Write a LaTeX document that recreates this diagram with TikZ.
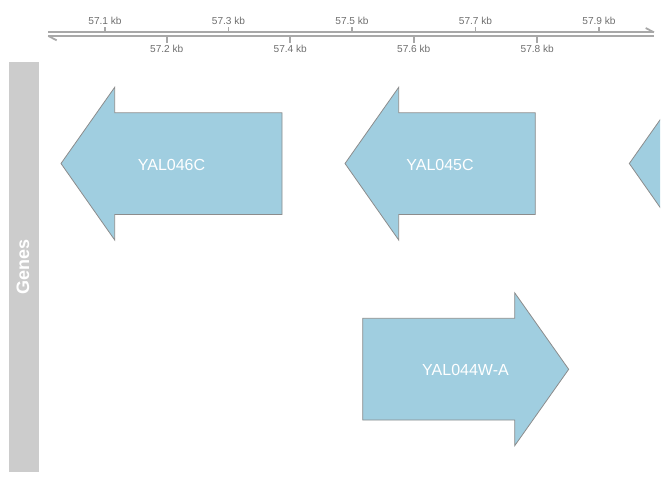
\documentclass[tikz,border=0pt]{standalone}
\usepackage{fontspec}
\usepackage{xcolor}
\usepackage{tikz}
\setmainfont{Liberation Sans}
\definecolor{genefill}{RGB}{160,206,224}
\definecolor{geneline}{RGB}{140,140,140}
\definecolor{axisgray}{RGB}{168,168,168}
\definecolor{labgray}{RGB}{110,110,110}
\definecolor{stripgray}{RGB}{204,204,204}
\tikzset{
  axisline/.style={draw=axisgray,line width=1.3pt},
  ticklab/.style={inner sep=0.75pt,text=labgray,font=\fontsize{7.6}{9}\selectfont},
  gene/.style={fill=genefill,draw=geneline,line width=0.6pt},
  genelab/.style={inner sep=0.75pt,text=white,font=\fontsize{12}{14}\selectfont}
}

\begin{document}
\begin{tikzpicture}[x=0.75pt,y=0.75pt,yscale=-1,xscale=1]
\useasboundingbox (0,0) rectangle (672,480);

%Shape: Title strip [id:strip]
\fill [stripgray] (9,62) rectangle (38.5,471.5);
% Text Node
\node (genes) [rotate=90,inner sep=0.75pt,text=white,font=\bfseries\fontsize{13.5}{15}\selectfont] at (23,267) {Genes};

%Straight Lines [id:axis]
\draw [axisline] (48.3,32.3) -- (654,32.3) ;
\draw [axisline] (48.3,36) -- (654,36) ;
\draw [axisline] (48.3,36) -- (56.7,40.3) ;
\draw [axisline] (654,32.3) -- (645.7,28) ;
%Ticks above
\foreach \k/\lab in {105/57.1,228.5/57.3,352/57.5,475.5/57.7,599/57.9}{
  \draw [axisline] (\k,32.3) -- (\k,27.3) ;
  \node (t\lab) [ticklab] at (\k,20.6) {\lab\ kb};
}
%Ticks below
\foreach \k/\lab in {166.75/57.2,290.25/57.4,413.75/57.6,537.25/57.8}{
  \draw [axisline] (\k,36) -- (\k,43.2) ;
  \node (t\lab) [ticklab] at (\k,49.2) {\lab\ kb};
}

\begin{scope}
\clip (0,0) rectangle (660,480);
%Shape: Arrow [id:YAL046C]
\draw [gene] (61,163.5) -- (114.7,87.3) -- (114.7,112.8) -- (282,112.8) -- (282,214.5) -- (114.7,214.5) -- (114.7,240) -- cycle ;
%Shape: Arrow [id:YAL045C]
\draw [gene] (345,163.5) -- (398.7,87.3) -- (398.7,112.8) -- (535.3,112.8) -- (535.3,214.5) -- (398.7,214.5) -- (398.7,240) -- cycle ;
%Shape: Arrow [id:next]
\draw [gene] (629.3,163.5) -- (683,87.3) -- (683,240) -- cycle ;
%Shape: Arrow [id:YAL044W-A]
\draw [gene] (568.7,369.3) -- (514.7,292.8) -- (514.7,318.3) -- (362.7,318.3) -- (362.7,420) -- (514.7,420) -- (514.7,445.7) -- cycle ;
\end{scope}

% Text Node
\node (g046) [genelab] at (171.5,164.5) {YAL046C};
% Text Node
\node (g045) [genelab] at (440,164.5) {YAL045C};
% Text Node
\node (g044) [genelab] at (465.5,370) {YAL044W-A};

\end{tikzpicture}
\end{document}
